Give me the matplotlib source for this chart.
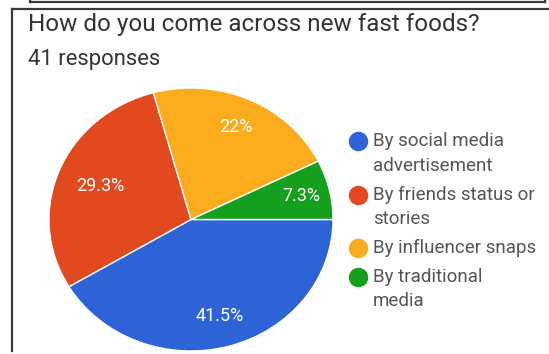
import numpy as np
import matplotlib.pyplot as plt
from matplotlib.lines import Line2D

# Survey data (41 responses)
categories = ["By social media\nadvertisement", "By friends status or\nstories",
              "By influencer snaps", "By traditional\nmedia"]
counts = [17, 12, 9, 3]
colors = ["#2d63d7", "#e2491f", "#fbab1c", "#14a01c"]

title = "How do you come across new fast foods?"
subtitle = "41 responses"

W, H = 549, 354
fig = plt.figure(figsize=(W / 100, H / 100), dpi=100)
plt.rcParams["font.family"] = ["Roboto", "DejaVu Sans"]


def px(x, y):
    # pixel position (from top-left) -> figure fraction
    return x / W, 1 - y / H


def fmt_pct(p):
    s = f"{p:.1f}"
    return s[:-2] + "%" if s.endswith(".0") else s + "%"


# Card borders
for xs, ys in [((12, 12), (351, 9)), ((12, 549), (9, 9)),
               ((30, 30), (0, 2)), ((30, 545), (2, 2)), ((545, 545), (0, 2))]:
    p0 = px(xs[0], ys[0])
    p1 = px(xs[1], ys[1])
    fig.add_artist(Line2D([p0[0], p1[0]], [p0[1], p1[1]], color="#3a3a3a", lw=1.6))

fig.text(*px(28, 25), title, fontsize=17.5, color="#333333", va="center", ha="left")
fig.text(*px(28, 59), subtitle, fontsize=15.8, color="#333333", va="center", ha="left")

# Pie
cx, cy, rx, ry = 191, 219.5, 142, 131.5
l, t = px(cx - rx, cy - ry)
r, b = px(cx + rx, cy + ry)
ax = fig.add_axes([l, b, r - l, t - b])
wedges, texts, autotexts = ax.pie(
    counts, colors=colors, startangle=0, counterclock=False,
    autopct=fmt_pct,
    wedgeprops=dict(edgecolor="white", linewidth=1),
    textprops=dict(color="white", fontsize=13))
ax.set_aspect("auto")
ax.set_xlim(-1, 1)
ax.set_ylim(-1, 1)

# percentage labels placed along each wedge's mid angle
label_dist = [0.76, 0.69, 0.77, 0.80]
for w, txt, d in zip(wedges, autotexts, label_dist):
    theta = np.deg2rad((w.theta1 + w.theta2) / 2)
    txt.set_position((d * np.cos(theta), d * np.sin(theta)))

# Legend
lx, y = 358, 141
for label, col in zip(categories, colors):
    fig.add_artist(Line2D([px(lx, y)[0]], [px(lx, y)[1]], marker="o", markersize=13,
                          color=col, linestyle="none"))
    for i, line in enumerate(label.split("\n")):
        fig.text(*px(373, y + 25 * i), line, fontsize=13.5, color="#555555",
                 va="center", ha="left")
    y += 25 * label.count("\n") + 28.5

fig.savefig("out.png", dpi=100)
